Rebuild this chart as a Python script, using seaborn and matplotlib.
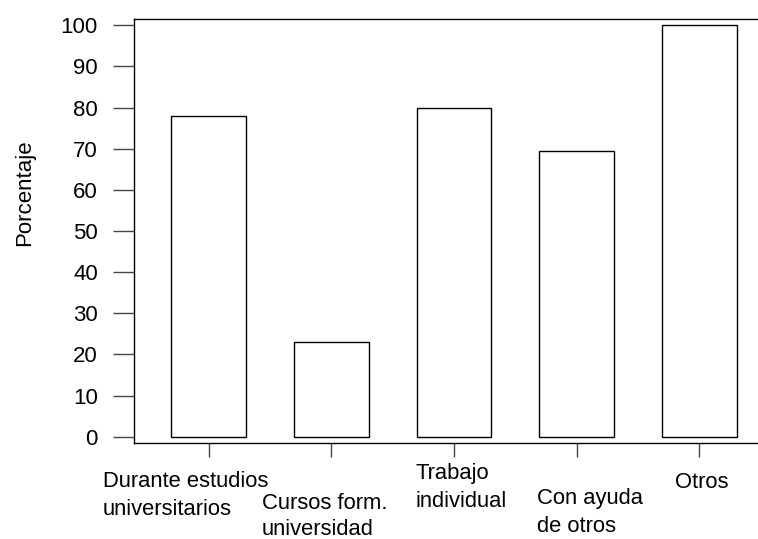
import matplotlib
matplotlib.use("Agg")
import matplotlib.pyplot as plt
import seaborn as sns

# Data
categorias = ['Durante estudios\nuniversitarios', 'Cursos form.\nuniversidad',
              'Trabajo\nindividual', 'Con ayuda\nde otros', 'Otros']
porcentajes = [78, 23, 80, 69.5, 100]
yticks = [0, 10, 20, 30, 40, 50, 60, 70, 80, 90, 100]

sns.set_style('white')
plt.rcParams['font.family'] = ['Liberation Sans', 'DejaVu Sans']
plt.rcParams['text.color'] = 'black'
plt.rcParams['axes.labelcolor'] = 'black'
plt.rcParams['xtick.color'] = 'black'
plt.rcParams['ytick.color'] = 'black'

fig = plt.figure(figsize=(7.58, 5.39), dpi=100)
ax = fig.add_axes([134 / 758, 1 - 443 / 539, 623 / 758, 424 / 539])

sns.barplot(x=list(range(len(categorias))), y=porcentajes, ax=ax, color='white',
            edgecolor='black', linewidth=1.0, width=0.61, saturation=1, errorbar=None,
            native_scale=True)

ax.set_xlim(-0.61, 4.47)
ax.set_ylim(-1.5, 101.5)
ax.set_yticks(yticks)
ax.set_yticklabels([str(t) for t in yticks], fontsize=16)
ax.set_xticks(range(len(categorias)))
ax.set_xticklabels([])

# category labels sit staggered and a bit off their ticks, like the original
dx = [-76.2, -50, -28.1, -28.5, -17.4]
dy = [-20, -36, -14.4, -32.3, -20.9]
lsp = [1.45, 1.3, 1.45, 1.45, 1.45]
for i, cat in enumerate(categorias):
    ax.annotate(cat, xy=(i, 0), xycoords=('data', 'axes fraction'),
                xytext=(dx[i], dy[i]), textcoords='offset points',
                ha='left', va='top', fontsize=15.8, linespacing=lsp[i],
                annotation_clip=False)

ax.tick_params(axis='y', length=15, width=1, color='#444444', pad=11, left=True)
ax.tick_params(axis='x', length=10, width=1, color='#444444', bottom=True)

for s in ['left', 'top', 'bottom']:
    ax.spines[s].set_visible(True)
    ax.spines[s].set_color('black')
    ax.spines[s].set_linewidth(1.0)
ax.spines['right'].set_visible(False)

ax.set_xlabel('')
ax.set_ylabel('Porcentaje', fontsize=16)
ax.yaxis.set_label_coords(-0.158, 0.59)

fig.savefig('out.png', dpi=100)
